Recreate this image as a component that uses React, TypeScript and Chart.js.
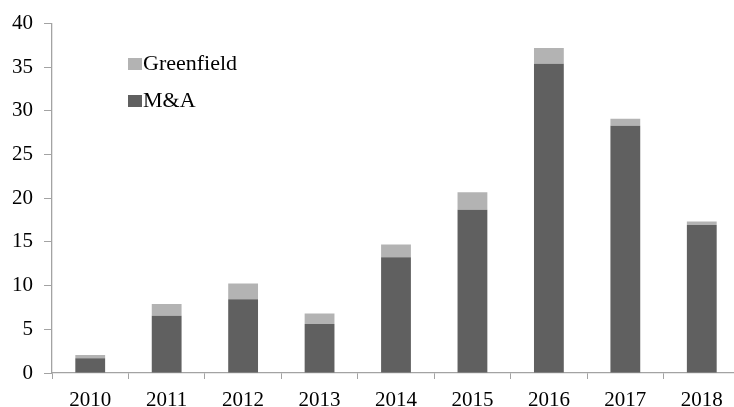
import React, { useEffect, useRef } from "react";
import { Chart, registerables } from "chart.js";

Chart.register(...registerables);

const years = ["2010", "2011", "2012", "2013", "2014", "2015", "2016", "2017", "2018"];
const mna = [1.7, 6.55, 8.45, 5.6, 13.25, 18.7, 35.4, 28.3, 16.95];
const greenfield = [0.35, 1.35, 1.8, 1.2, 1.45, 2.0, 1.8, 0.8, 0.4];
const yTicks = [0, 5, 10, 15, 20, 25, 30, 35, 40];

const FONT = "'Liberation Serif', 'Times New Roman', serif";
const AXIS = "#a3a3a3";

const legendPlugin = {
  id: "insideLegend",
  afterDraw(chart: any) {
    const { ctx } = chart;
    const items = [
      { label: chart.data.datasets[1].label, color: chart.data.datasets[1].backgroundColor, y: 64 },
      { label: chart.data.datasets[0].label, color: chart.data.datasets[0].backgroundColor, y: 101 },
    ];
    ctx.save();
    ctx.font = `22px ${FONT}`;
    ctx.textBaseline = "middle";
    for (const it of items) {
      ctx.fillStyle = it.color;
      ctx.fillRect(128, it.y - 6, 14, 12);
      ctx.fillStyle = "#000";
      ctx.fillText(it.label, 143, it.y);
    }
    ctx.restore();
  },
};

export default function App() {
  const ref = useRef<HTMLCanvasElement>(null);
  useEffect(() => {
    const chart = new Chart(ref.current!, {
      type: "bar",
      data: {
        labels: years,
        datasets: [
          { label: "M&A", data: mna, backgroundColor: "#606060", barPercentage: 0.39, categoryPercentage: 1 },
          { label: "Greenfield", data: greenfield, backgroundColor: "#b3b3b3", barPercentage: 0.39, categoryPercentage: 1 },
        ],
      },
      options: {
        responsive: false,
        animation: false,
        layout: { padding: { top: 23, right: 5, left: 0, bottom: 0 } },
        plugins: { legend: { display: false }, tooltip: { enabled: false } },
        scales: {
          x: {
            stacked: true,
            grid: { drawOnChartArea: false, drawTicks: true, tickLength: 6, color: AXIS, offset: true },
            border: { color: AXIS, width: 1.3 },
            ticks: { color: "#000", font: { family: FONT, size: 21 }, padding: 9, maxRotation: 0 },
            afterFit(scale: any) { scale.height = 34; },
          },
          y: {
            stacked: true,
            min: 0,
            max: 40,
            afterBuildTicks(scale: any) { scale.ticks = yTicks.map((v) => ({ value: v })); },
            grid: { drawOnChartArea: false, drawTicks: true, tickLength: 8, color: AXIS },
            border: { color: AXIS, width: 1.3 },
            ticks: { color: "#000", font: { family: FONT, size: 21 }, padding: 11 },
            afterFit(scale: any) { scale.width = 52; },
          },
        },
      },
      plugins: [legendPlugin],
    });
    return () => chart.destroy();
  }, []);
  return (
    <div style={{ position: "fixed", left: 0, top: 0, width: 734, height: 407, overflow: "hidden", background: "#fff" }}>
      <canvas ref={ref} width={745} height={407} style={{ display: "block" }} />
    </div>
  );
}
